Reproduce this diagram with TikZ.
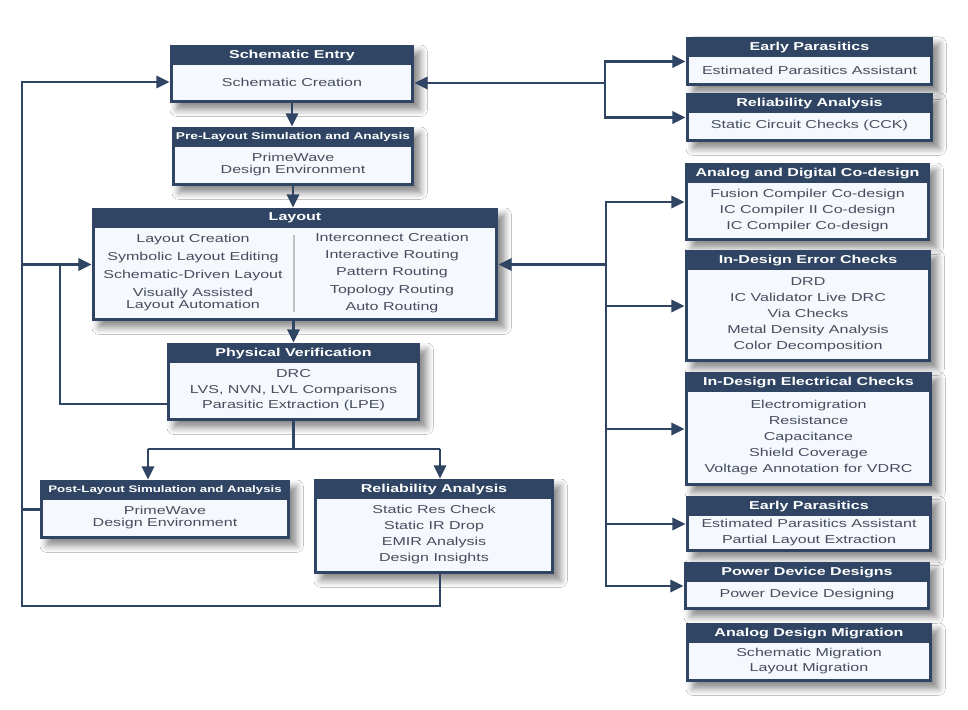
\documentclass[tikz,border=0pt]{standalone}
\usepackage{fontspec}
\setmainfont{Liberation Sans}[FakeStretch=1.4]
\usetikzlibrary{arrows.meta, fit, shadows.blur}
\definecolor{navy}{HTML}{2F4563}
\definecolor{paper}{HTML}{F5F8FC}
\definecolor{ink}{HTML}{474D5E}
\tikzstyle{panel} = [fill=navy, inner sep=0pt, blur shadow={shadow xshift=5pt, shadow yshift=-5pt, shadow blur radius=5pt, shadow opacity=45}]
\tikzstyle{paneltitle} = [text=white, font=\bfseries\fontsize{8.6}{10}\selectfont, inner sep=0pt]
\tikzstyle{paneltext} = [text=ink, align=center, font=\fontsize{8.6}{12}\selectfont, inner sep=0pt]
\tikzstyle{link} = [draw=navy, line width=2.2pt]
% box with dark title band and light body
\newcommand{\flowpanel}[6][]{%
  \node[panel, fit={#3 #4}] (#2) {};
  \fill[paper] ([shift={(3,20)}]#2.north west) rectangle ([shift={(-3,-3)}]#2.south east);
  \node[paneltitle] at ([shift={(0,10.5)}]#2.north) {#5};
  \node[paneltext, #1] at ([shift={(0,8.5)}]#2.center) {#6};
}

\begin{document}
\begin{tikzpicture}[x=0.75pt, y=-0.75pt, >={Triangle[length=10pt,width=9pt]}]
\fill[white] (0,0) rectangle (968,710);
\useasboundingbox (0,0) rectangle (968,710);

% main flow
\flowpanel{se}{(170,45)}{(414,103)}{Schematic Entry}{Schematic Creation}
\flowpanel[font=\fontsize{8.6}{9}\selectfont]{pre}{(172,127)}{(414,186)}{{\fontsize{7.35}{9}\selectfont Pre-Layout Simulation and Analysis}}{PrimeWave\\Design Environment}
\flowpanel{lay}{(92,208)}{(498,321)}{Layout}{}
\node[paneltext, font=\fontsize{8.6}{13.5}\selectfont] (layl) at (193,273) {Layout Creation\\Symbolic Layout Editing\\Schematic-Driven Layout\\Visually Assisted\\[-4.5pt]Layout Automation};
\node[paneltext, font=\fontsize{8.6}{13.1}\selectfont] (layr) at (392,273) {Interconnect Creation\\Interactive Routing\\Pattern Routing\\Topology Routing\\Auto Routing};
\draw[gray!50, line width=1pt] (294,235) -- (294,312);
\flowpanel[font=\fontsize{8.6}{11.6}\selectfont]{pv}{(167,343)}{(420,421)}{Physical Verification}{DRC\\LVS, NVN, LVL Comparisons\\Parasitic Extraction (LPE)}
\flowpanel[font=\fontsize{8.6}{9}\selectfont]{post}{(40,480)}{(290,539)}{{\fontsize{7.1}{8}\selectfont Post-Layout Simulation and Analysis}}{PrimeWave\\Design Environment}
\flowpanel{rel}{(314,479)}{(554,574)}{Reliability Analysis}{Static Res Check\\Static IR Drop\\EMIR Analysis\\Design Insights}

% right column
\flowpanel{ep1}{(686,37)}{(933,86)}{Early Parasitics}{Estimated Parasitics Assistant}
\flowpanel{ra1}{(686,93)}{(933,142)}{Reliability Analysis}{Static Circuit Checks (CCK)}
\flowpanel{adc}{(685,163)}{(930,241)}{Analog and Digital Co-design}{Fusion Compiler Co-design\\IC Compiler II Co-design\\IC Compiler Co-design}
\flowpanel{iec}{(685,250)}{(931,362)}{In-Design Error Checks}{DRD\\IC Validator Live DRC\\Via Checks\\Metal Density Analysis\\Color Decomposition}
\flowpanel{iee}{(685,372)}{(932,486)}{In-Design Electrical Checks}{Electromigration\\Resistance\\Capacitance\\Shield Coverage\\Voltage Annotation for VDRC}
\flowpanel[font=\fontsize{8.6}{11.3}\selectfont]{ep2}{(686,496)}{(932,552)}{Early Parasitics}{Estimated Parasitics Assistant\\Partial Layout Extraction}
\flowpanel{pdd}{(684,562)}{(930,610)}{Power Device Designs}{Power Device Designing}
\flowpanel[font=\fontsize{8.6}{11.3}\selectfont]{adm}{(686,623)}{(932,682)}{Analog Design Migration}{Schematic Migration\\Layout Migration}

% chain
\draw[link, ->] (se.south) -- (se.south |- pre.north);
\draw[link, ->] (pre.south) -- (pre.south |- lay.north);
\draw[link, ->] (pv.north |- lay.south) -- (pv.north);
\coordinate (sl) at (148,449);
\coordinate (sr) at (440,449);
\draw[link] (pv.south) -- (pv.south |- sl);
\draw[link] (sl) -- (sr);
\draw[link, ->] (sl) -- (sl |- post.north);
\draw[link, ->] (sr) -- (sr |- rel.north);

% feedback on the left
\coordinate (lt) at (22,82);
\coordinate (lb) at (22,606);
\draw[link, ->] (sr |- rel.south) -- (sr |- lb) -- (lb) -- (lt) -- (lt -| se.west);
\draw[link] (post.west) -- (post.west -| lb);
\draw[link, ->] (lay.west -| lb) -- (lay.west);
\coordinate (pvl) at (60,404);
\draw[link] (pvl -| pv.west) -- (pvl) -- (pvl |- lay.west);

% links on the right
\coordinate (rt) at (605,83);
\draw[link, ->] (rt) -- (rt -| se.east);
\draw[link, ->] (rt) |- (ep1.west);
\draw[link, ->] (rt) |- (ra1.west);
\coordinate (rb) at (606,0);
\draw[link, ->] (lay.east -| rb) -- (lay.east);
\foreach \p in {adc, iec, iee, ep2, pdd}
  \draw[link, ->] (lay.east -| rb) |- (\p.west);
\end{tikzpicture}
\end{document}
